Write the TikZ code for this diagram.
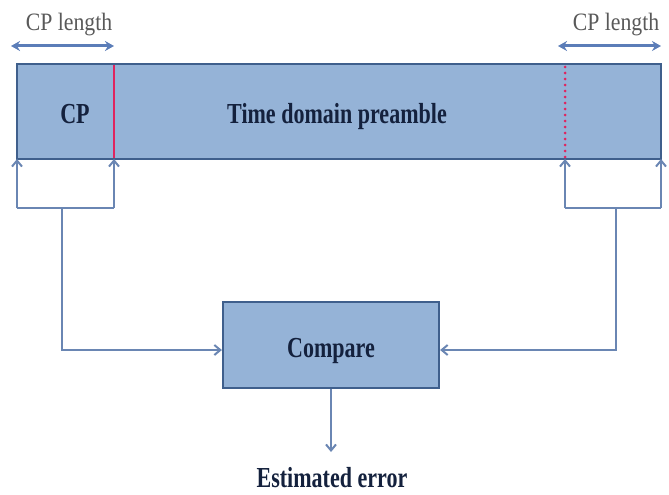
\documentclass[tikz,border=0pt]{standalone}
\usepackage{fontspec}
\setmainfont{Liberation Serif}
\newfontfamily\condbold[FakeStretch=0.76]{Liberation Serif Bold}
\newfontfamily\condreg[FakeStretch=0.87]{Liberation Serif}
\usetikzlibrary{arrows.meta}
\definecolor{boxfill}{HTML}{95B3D7}
\definecolor{boxline}{HTML}{3F5F8C}
\definecolor{connc}{HTML}{6A86B3}
\definecolor{lenc}{HTML}{5B7DB8}
\definecolor{redl}{HTML}{E0245E}
\definecolor{txtd}{HTML}{14213D}
\definecolor{txtg}{HTML}{595959}
\tikzset{
  blockbox/.style={draw=boxline, fill=boxfill, line width=2.2pt, inner sep=0pt},
  conn/.style={draw=connc, line width=2.2pt, -{Straight Barb[length=6pt,width=10pt,line width=2pt]}},
  plainconn/.style={draw=connc, line width=2.2pt},
  lenarrow/.style={draw=lenc, line width=3pt, {Stealth[length=9pt,width=10pt]}-{Stealth[length=9pt,width=10pt]}},
  boldtxt/.style={font=\condbold\fontsize{29}{32}\selectfont, text=txtd, inner sep=0pt, anchor=base},
  regtxt/.style={font=\condreg\fontsize{25}{28}\selectfont, text=txtg, inner sep=0pt, anchor=base},
}
\begin{document}
\begin{tikzpicture}[x=1pt,y=-1pt]
\useasboundingbox (0,0) rectangle (669,495);
% main preamble block
\node[blockbox, minimum width=644pt, minimum height=95pt] (pre) at (339,111.5) {};
\node[boldtxt] (cp) at (75,123) {CP};
\node[boldtxt] (tdp) at (337,123) {Time domain preamble};
% CP boundary lines
\coordinate (rT) at (114,65);
\coordinate (rB) at (114,158);
\draw[redl, line width=2.5pt] (rT) -- (rB);
\coordinate (dT) at (565,67);
\coordinate (dB) at (565,158);
\draw[redl, line width=3pt, line cap=round, dash pattern=on 0pt off 6pt] (dT) -- (dB);
% CP length labels
\node[regtxt] (lenL) at (69,31) {CP length};
\node[regtxt] (lenR) at (616,31) {CP length};
\coordinate (laL) at (11,46);
\coordinate (laR) at (114,46);
\coordinate (raL) at (558,46);
\coordinate (raR) at (661,46);
\draw[lenarrow] (laL) -- (laR);
\draw[lenarrow] (raL) -- (raR);
% compare block
\node[blockbox, minimum width=216pt, minimum height=86pt] (cmp) at (331,345) {};
\node[boldtxt] (cmpt) at (331,357) {Compare};
\node[boldtxt] (est) at (332,487) {Estimated error};
% left bracket
\coordinate (l1t) at (17,159);
\coordinate (l2t) at (114,159);
\coordinate (l1b) at (17,208);
\coordinate (l2b) at (114,208);
\coordinate (ls) at (62,208);
\coordinate (lc) at (62,350);
\draw[conn] (l1b) -- (l1t);
\draw[conn] (l2b) -- (l2t);
\draw[plainconn] (l1b) -- (l2b);
\draw[conn] (ls) -- (lc) -- (cmp.west |- lc);
% right bracket
\coordinate (r1t) at (565,159);
\coordinate (r2t) at (661,159);
\coordinate (r1b) at (565,208);
\coordinate (r2b) at (661,208);
\coordinate (rs) at (616,208);
\coordinate (rc) at (616,350);
\draw[conn] (r1b) -- (r1t);
\draw[conn] (r2b) -- (r2t);
\draw[plainconn] (r1b) -- (r2b);
\draw[conn] (rs) -- (rc) -- (cmp.east |- rc);
% output
\coordinate (outE) at (cmp.south |- 0,452);
\draw[conn] (cmp.south) -- (outE);
\end{tikzpicture}
\end{document}
